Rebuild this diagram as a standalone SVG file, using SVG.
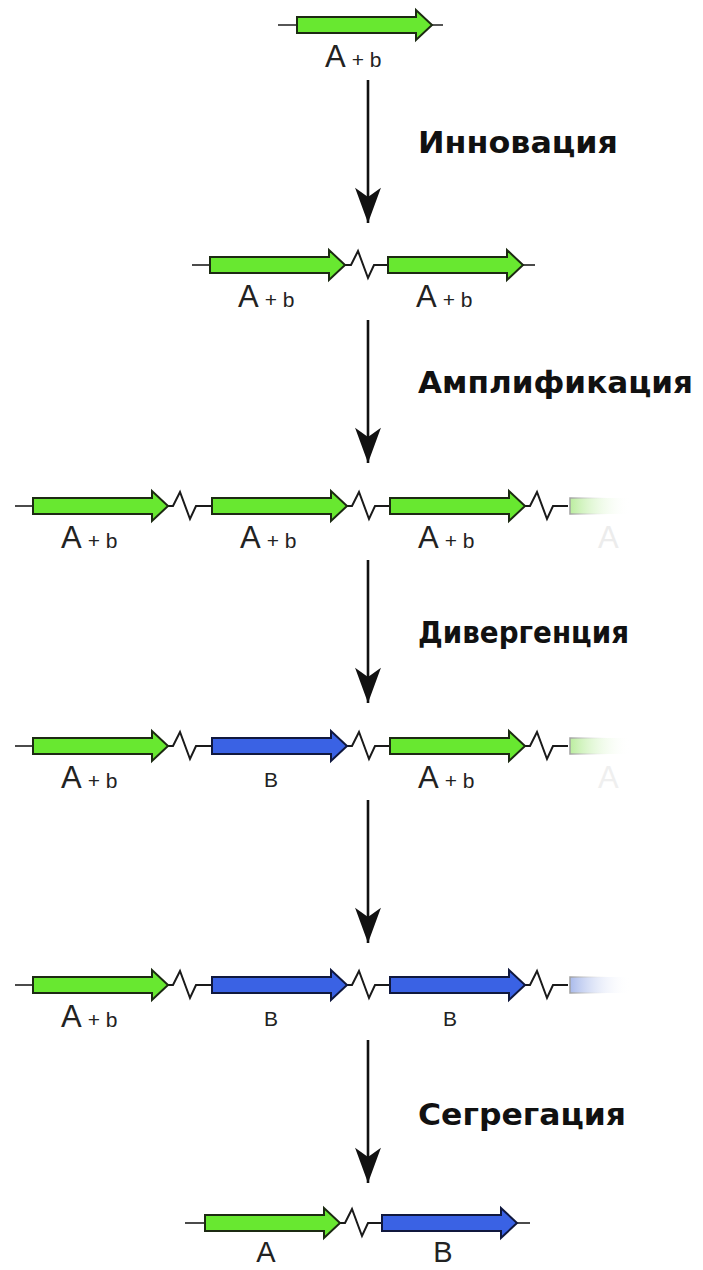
<svg xmlns="http://www.w3.org/2000/svg" width="703" height="1270" viewBox="0 0 703 1270">
<style>
.bb{stroke:#1e1e1e;stroke-width:1.6;fill:none}
.zz{stroke:#1a1a1a;stroke-width:2;fill:none;stroke-linejoin:miter}
.ga{fill:#68e830;stroke:#1c2a12;stroke-width:2;stroke-linejoin:miter}
.gb{fill:#3a62e4;stroke:#10183e;stroke-width:2;stroke-linejoin:miter}
.lbl{font-family:"Liberation Sans",Arial,sans-serif;fill:#222}
.big{font-size:31px}
.sm{font-size:21px}
.bl{font-size:21px}
.step{font-family:"DejaVu Sans",Verdana,sans-serif;font-weight:bold;font-size:30px;fill:#111}
.conn{stroke:#111;stroke-width:2.6;fill:none;marker-end:url(#ah)}
</style>
<defs>
<path id="gene" d="M0,-8 H119 V-15 L135,0 L119,15 V8 H0 Z"/>
<path id="zz" d="M0,0 H6 L13,-14 L23,13 L29,0 H44"/>
<marker id="ah" markerUnits="userSpaceOnUse" markerWidth="40" markerHeight="40" viewBox="-32 -14 34 28" refX="0" refY="0" orient="auto">
<path d="M0,0 L-30,-11 L-22,0 L-30,11 Z" fill="#111"/>
</marker>
<linearGradient id="fadeG" gradientUnits="userSpaceOnUse" x1="568" y1="0" x2="630" y2="0">
<stop offset="0" stop-color="#b6ec98"/><stop offset="1" stop-color="#ffffff" stop-opacity="0"/>
</linearGradient>
<linearGradient id="fadeB" gradientUnits="userSpaceOnUse" x1="568" y1="0" x2="630" y2="0">
<stop offset="0" stop-color="#a4b6ea"/><stop offset="1" stop-color="#ffffff" stop-opacity="0"/>
</linearGradient>
<linearGradient id="fadeS" gradientUnits="userSpaceOnUse" x1="568" y1="0" x2="610" y2="0">
<stop offset="0" stop-color="#999"/><stop offset="1" stop-color="#fff" stop-opacity="0"/>
</linearGradient>
</defs>

<!-- Row 1 -->
<g id="row1">
<line class="bb" x1="278" y1="25" x2="443" y2="25"/>
<use href="#gene" class="ga" x="297" y="25"/>
<text class="lbl" x="325" y="67"><tspan class="big">A</tspan><tspan class="sm" dx="6">+ b</tspan></text>
</g>

<!-- Row 2 -->
<g id="row2">
<line class="bb" x1="192" y1="265" x2="210" y2="265"/>
<use href="#zz" class="zz" x="345" y="265"/>
<line class="bb" x1="520" y1="265" x2="535" y2="265"/>
<use href="#gene" class="ga" x="210" y="265"/>
<use href="#gene" class="ga" x="388" y="265"/>
<text class="lbl" x="238" y="307"><tspan class="big">A</tspan><tspan class="sm" dx="6">+ b</tspan></text>
<text class="lbl" x="416" y="307"><tspan class="big">A</tspan><tspan class="sm" dx="6">+ b</tspan></text>
</g>

<!-- Row 3 -->
<g id="row3">
<line class="bb" x1="15" y1="506" x2="33" y2="506"/>
<use href="#zz" class="zz" x="167" y="506"/>
<use href="#zz" class="zz" x="346" y="506"/>
<use href="#zz" class="zz" x="524" y="506"/>
<use href="#gene" class="ga" x="33" y="506"/>
<use href="#gene" class="ga" x="212" y="506"/>
<use href="#gene" class="ga" x="390" y="506"/>
<rect x="570" y="498" width="70" height="16" fill="url(#fadeG)" stroke="url(#fadeS)" stroke-width="1.5"/>
<text class="lbl" x="61" y="548"><tspan class="big">A</tspan><tspan class="sm" dx="6">+ b</tspan></text>
<text class="lbl" x="240" y="548"><tspan class="big">A</tspan><tspan class="sm" dx="6">+ b</tspan></text>
<text class="lbl" x="418" y="548"><tspan class="big">A</tspan><tspan class="sm" dx="6">+ b</tspan></text>
<text class="lbl big" x="598" y="548" style="fill:#ececec">A</text>
</g>

<!-- Row 4 -->
<g id="row4">
<line class="bb" x1="15" y1="746" x2="33" y2="746"/>
<use href="#zz" class="zz" x="167" y="746"/>
<use href="#zz" class="zz" x="346" y="746"/>
<use href="#zz" class="zz" x="524" y="746"/>
<use href="#gene" class="ga" x="33" y="746"/>
<use href="#gene" class="gb" x="212" y="746"/>
<use href="#gene" class="ga" x="390" y="746"/>
<rect x="570" y="738" width="70" height="16" fill="url(#fadeG)" stroke="url(#fadeS)" stroke-width="1.5"/>
<text class="lbl" x="61" y="788"><tspan class="big">A</tspan><tspan class="sm" dx="6">+ b</tspan></text>
<text class="lbl bl" x="271" y="787" text-anchor="middle">B</text>
<text class="lbl" x="418" y="788"><tspan class="big">A</tspan><tspan class="sm" dx="6">+ b</tspan></text>
<text class="lbl big" x="598" y="788" style="fill:#efefef">A</text>
</g>

<!-- Row 5 -->
<g id="row5">
<line class="bb" x1="15" y1="985" x2="33" y2="985"/>
<use href="#zz" class="zz" x="167" y="985"/>
<use href="#zz" class="zz" x="346" y="985"/>
<use href="#zz" class="zz" x="524" y="985"/>
<use href="#gene" class="ga" x="33" y="985"/>
<use href="#gene" class="gb" x="212" y="985"/>
<use href="#gene" class="gb" x="390" y="985"/>
<rect x="570" y="977" width="70" height="16" fill="url(#fadeB)" stroke="url(#fadeS)" stroke-width="1.5"/>
<text class="lbl" x="61" y="1027"><tspan class="big">A</tspan><tspan class="sm" dx="6">+ b</tspan></text>
<text class="lbl bl" x="271" y="1026" text-anchor="middle">B</text>
<text class="lbl bl" x="450" y="1026" text-anchor="middle">B</text>
</g>

<!-- Row 6 -->
<g id="row6">
<line class="bb" x1="185" y1="1223" x2="205" y2="1223"/>
<use href="#zz" class="zz" x="339" y="1223"/>
<line class="bb" x1="515" y1="1223" x2="530" y2="1223"/>
<use href="#gene" class="ga" x="205" y="1223"/>
<use href="#gene" class="gb" x="382" y="1223"/>
<text class="lbl" x="266" y="1262" text-anchor="middle" font-size="29">A</text>
<text class="lbl" x="443" y="1262" text-anchor="middle" font-size="29">B</text>
</g>

<!-- Connectors -->
<g id="connectors">
<line class="conn" x1="368" y1="80" x2="368" y2="223"/>
<line class="conn" x1="368" y1="320" x2="368" y2="463"/>
<line class="conn" x1="368" y1="560" x2="368" y2="703"/>
<line class="conn" x1="368" y1="800" x2="368" y2="943"/>
<line class="conn" x1="368" y1="1040" x2="368" y2="1183"/>
</g>

<!-- Step labels -->
<g id="labels">
<text class="step" x="418" y="153" textLength="200" lengthAdjust="spacingAndGlyphs">Инновация</text>
<text class="step" x="418" y="393" textLength="275" lengthAdjust="spacingAndGlyphs">Амплификация</text>
<text class="step" x="418" y="643" textLength="211" lengthAdjust="spacingAndGlyphs">Дивергенция</text>
<text class="step" x="418" y="1125" textLength="208" lengthAdjust="spacingAndGlyphs">Сегрегация</text>
</g>
</svg>
